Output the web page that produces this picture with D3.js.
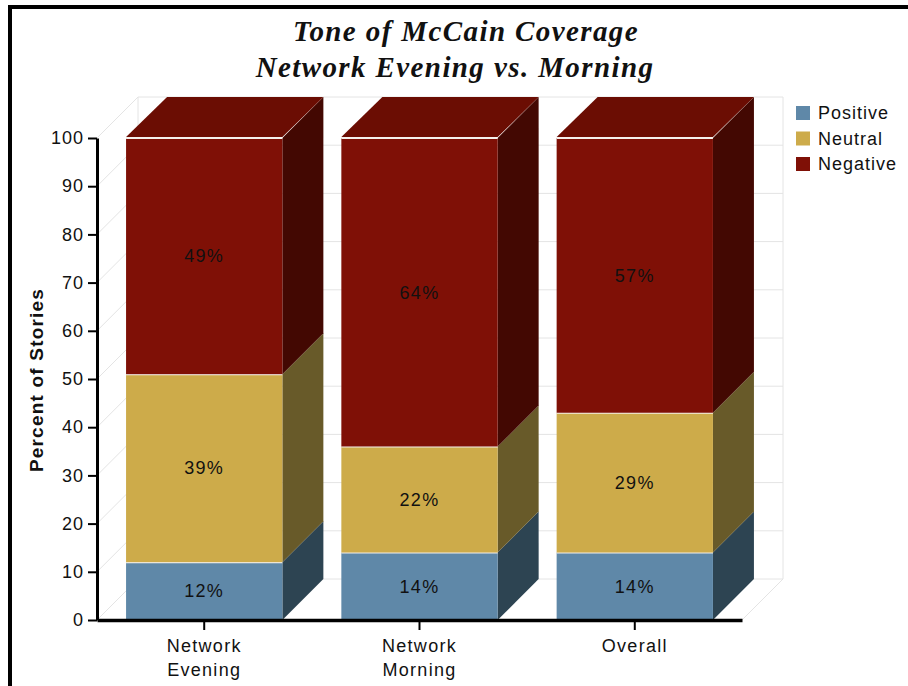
<!DOCTYPE html>
<html>
<head>
<meta charset="utf-8">
<script src="https://cdn.jsdelivr.net/npm/d3@7"></script>
<style>
  body { margin: 0; background: #fff; }
  svg { display: block; font-family: "Liberation Sans", Arial, sans-serif; }
</style>
</head>
<body>
<svg id="chart" width="908" height="686"></svg>
<script>
const categories = [["Network", "Evening"], ["Network", "Morning"], ["Overall"]];
const seriesNames = ["Positive", "Neutral", "Negative"];
const positive = [12, 14, 14];
const neutral = [39, 22, 29];
const negative = [49, 64, 57];
const yTicks = [0, 10, 20, 30, 40, 50, 60, 70, 80, 90, 100];

const frontColor = { Positive: "#5f88a8", Neutral: "#cdab4a", Negative: "#7f1006" };
const sideColor = { Positive: "#2d4452", Neutral: "#685a29", Negative: "#430802" };
const topColor = { Positive: "#4c6d86", Neutral: "#a4893b", Negative: "#6b0d03" };

const svg = d3.select("#chart");
const width = +svg.attr("width");

// outer frame
svg.append("rect")
    .attr("x", 10).attr("y", 7)
    .attr("width", width + 40).attr("height", 800)
    .attr("fill", "#fff")
    .attr("stroke", "#000")
    .attr("stroke-width", 4);

// title
const title = svg.append("text")
    .style("font-family", "'Liberation Serif', 'Times New Roman', serif")
    .attr("font-weight", "bold")
    .attr("font-style", "italic")
    .attr("font-size", 29)
    .attr("letter-spacing", 1.4)
    .attr("text-anchor", "middle")
    .attr("fill", "#111");
title.append("tspan").attr("x", 466).attr("y", 41).text("Tone of McCain Coverage");
title.append("tspan").attr("x", 455).attr("y", 77).text("Network Evening vs. Morning");

const depth = 41;
const x0 = 97, x1 = 742;
const y = d3.scaleLinear().domain([0, 100]).range([620, 138]);
const x = d3.scaleBand()
    .domain(categories.map(d => d.join(" ")))
    .range([x0, x1])
    .paddingInner(0.274)
    .paddingOuter(0.135);

// back wall / left wall / floor grid
const grid = svg.append("g")
    .attr("stroke", "#e4e4e4")
    .attr("stroke-width", 1)
    .attr("fill", "none");
grid.selectAll(".hline")
    .data(yTicks)
    .enter().append("line")
    .attr("x1", x0 + depth).attr("x2", x1 + depth)
    .attr("y1", d => y(d) - depth).attr("y2", d => y(d) - depth);
grid.selectAll(".dline")
    .data(yTicks)
    .enter().append("line")
    .attr("x1", x0).attr("y1", d => y(d))
    .attr("x2", x0 + depth).attr("y2", d => y(d) - depth);
grid.append("line")
    .attr("x1", x0 + depth).attr("x2", x0 + depth)
    .attr("y1", y(100) - depth).attr("y2", y(0) - depth);
grid.append("line")
    .attr("x1", x1 + depth).attr("x2", x1 + depth)
    .attr("y1", y(100) - depth).attr("y2", y(0) - depth);
grid.append("line")
    .attr("x1", x1).attr("y1", y(0))
    .attr("x2", x1 + depth).attr("y2", y(0) - depth);

// stack data
const table = categories.map((c, i) => ({
    key: c.join(" "),
    Positive: positive[i],
    Neutral: neutral[i],
    Negative: negative[i]
}));
const stacked = d3.stack().keys(seriesNames)(table);

const bars = svg.append("g");
stacked.forEach(layer => {
    const name = layer.key;
    layer.forEach(seg => {
        const bx = x(seg.data.key);
        const bw = x.bandwidth();
        const yb = y(seg[0]), yt = y(seg[1]);
        const g = bars.append("g");
        // side face
        g.append("path")
            .attr("d", `M${bx + bw},${yb}L${bx + bw + depth},${yb - depth}L${bx + bw + depth},${yt - depth}L${bx + bw},${yt}Z`)
            .attr("fill", sideColor[name]);
        // front face
        g.append("rect")
            .attr("x", bx).attr("y", yt)
            .attr("width", bw).attr("height", yb - yt)
            .attr("fill", frontColor[name]);
        // separator line on the top edge
        g.append("line")
            .attr("x1", bx).attr("x2", bx + bw)
            .attr("y1", yt).attr("y2", yt)
            .attr("stroke", "#f4f0ec")
            .attr("stroke-width", 2);
        // top face on the last segment
        if (seg[1] === 100) {
            g.append("path")
                .attr("d", `M${bx},${yt - 1}L${bx + depth},${yt - depth}L${bx + bw + depth},${yt - depth}L${bx + bw},${yt - 1}Z`)
                .attr("fill", topColor[name]);
        }
        g.append("text")
            .attr("x", bx + bw / 2)
            .attr("y", (yb + yt) / 2)
            .attr("dy", "0.35em")
            .attr("text-anchor", "middle")
            .attr("font-size", 18)
            .attr("letter-spacing", 1.3)
            .attr("fill", "#111")
            .text((seg[1] - seg[0]) + "%");
    });
});

// y axis
const yAxis = svg.append("g")
    .attr("transform", `translate(${x0},0)`)
    .call(d3.axisLeft(y).tickValues(yTicks).tickSize(9).tickSizeOuter(0).tickPadding(4));
yAxis.select(".domain").attr("stroke", "#000").attr("stroke-width", 3);
yAxis.selectAll(".tick line").attr("stroke", "#000").attr("stroke-width", 2);
yAxis.selectAll(".tick text")
    .attr("font-family", null)
    .attr("font-size", 18)
    .attr("letter-spacing", 1)
    .attr("fill", "#111");

// x axis
const xAxis = svg.append("g")
    .attr("transform", `translate(0,${y(0)})`)
    .call(d3.axisBottom(x).tickSize(10).tickSizeOuter(0).tickFormat(""));
xAxis.attr("font-family", null);
yAxis.attr("font-family", null);
xAxis.select(".domain").attr("stroke", "#000").attr("stroke-width", 3.5);
xAxis.selectAll(".tick line").attr("stroke", "#000").attr("stroke-width", 2);
xAxis.selectAll(".tick")
    .append("text")
    .attr("fill", "#111")
    .attr("text-anchor", "middle")
    .attr("font-size", 18)
    .attr("letter-spacing", 1.3)
    .each(function(d) {
        const lines = categories.find(c => c.join(" ") === d);
        d3.select(this).selectAll("tspan")
            .data(lines)
            .enter().append("tspan")
            .attr("x", 0)
            .attr("y", (l, i) => 32 + i * 24)
            .text(l => l);
    });

// y axis title
svg.append("text")
    .attr("transform", `translate(43,${y(50) + 1}) rotate(-90)`)
    .attr("text-anchor", "middle")
    .attr("font-size", 19)
    .attr("font-weight", "bold")
    .attr("letter-spacing", 1.2)
    .attr("fill", "#111")
    .text("Percent of Stories");

// legend
const legend = svg.append("g")
    .attr("transform", "translate(796,106)");
const item = legend.selectAll("g")
    .data(seriesNames)
    .enter().append("g")
    .attr("transform", (d, i) => `translate(0,${i * 25.5})`);
item.append("rect")
    .attr("width", 14).attr("height", 14)
    .attr("fill", d => frontColor[d]);
item.append("text")
    .attr("x", 22).attr("y", 13)
    .attr("font-size", 18)
    .attr("letter-spacing", 1)
    .attr("fill", "#111")
    .text(d => d);
</script>
</body>
</html>
